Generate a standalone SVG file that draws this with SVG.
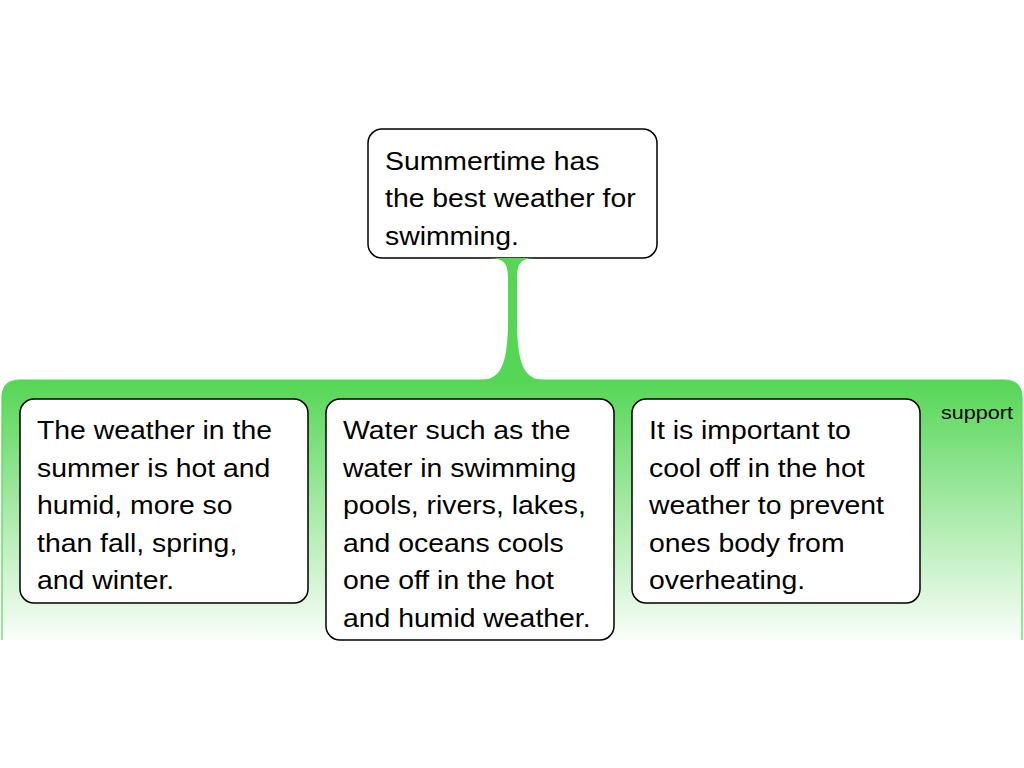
<svg xmlns="http://www.w3.org/2000/svg" width="1024" height="768" viewBox="0 0 1024 768">
<defs>
<linearGradient id="g" x1="0" y1="0" x2="0" y2="1">
<stop offset="0" stop-color="#55d655"/>
<stop offset="1" stop-color="#55d655" stop-opacity="0.03"/>
</linearGradient>
<style>
.box{fill:#fff;stroke:#000;stroke-width:1.5}
.t{font-family:"Liberation Sans",Arial,sans-serif;font-size:25px;fill:#000}
.s{font-family:"Liberation Sans",Arial,sans-serif;font-size:19px;fill:#000}
</style>
</defs>
<rect width="1024" height="768" fill="#fff"/>
<g id="band">
<path d="M2,640 L2,398 Q2,380 20,380 L1004,380 Q1022,380 1022,398 L1022,640 Z" fill="url(#g)"/>
<path d="M2,640 L2,398 Q2,380 20,380 L1004,380 Q1022,380 1022,398 L1022,640" fill="none" stroke="#55d655" stroke-width="1.2"/>
<g transform="translate(941 0) scale(1.135 1)"><text class="s" x="0" y="419">support</text></g>
</g>
<g id="main">
<rect class="box" x="368" y="129" width="289" height="129" rx="14"/>
<g transform="translate(385 0) scale(1.135 1)">
<text class="t" x="0" y="170">Summertime has</text>
<text class="t" x="0" y="207.5">the best weather for</text>
<text class="t" x="0" y="245">swimming.</text>
</g>
</g>
<g id="connectors">
<path d="M486,258 L537,258 C520,258 517,263 517,280 L517,320 C517,366 525,380 545,380 L480,380 C500,380 508,366 508,320 L508,280 C508,263 505,258 486,258 Z" fill="#55d655"/>
</g>
<g id="support1">
<rect class="box" x="20" y="399" width="288" height="204" rx="14"/>
<g transform="translate(37 0) scale(1.135 1)">
<text class="t" x="0" y="439.5">The weather in the</text>
<text class="t" x="0" y="477">summer is hot and</text>
<text class="t" x="0" y="514.5">humid, more so</text>
<text class="t" x="0" y="552">than fall, spring,</text>
<text class="t" x="0" y="589.5">and winter.</text>
</g>
</g>
<g id="support2">
<rect class="box" x="326" y="399" width="288" height="241" rx="14"/>
<g transform="translate(343 0) scale(1.135 1)">
<text class="t" x="0" y="439.5">Water such as the</text>
<text class="t" x="0" y="477">water in swimming</text>
<text class="t" x="0" y="514.5">pools, rivers, lakes,</text>
<text class="t" x="0" y="552">and oceans cools</text>
<text class="t" x="0" y="589.5">one off in the hot</text>
<text class="t" x="0" y="627">and humid weather.</text>
</g>
</g>
<g id="support3">
<rect class="box" x="632" y="399" width="288" height="204" rx="14"/>
<g transform="translate(649 0) scale(1.135 1)">
<text class="t" x="0" y="439.5">It is important to</text>
<text class="t" x="0" y="477">cool off in the hot</text>
<text class="t" x="0" y="514.5">weather to prevent</text>
<text class="t" x="0" y="552">ones body from</text>
<text class="t" x="0" y="589.5">overheating.</text>
</g>
</g>
</svg>
